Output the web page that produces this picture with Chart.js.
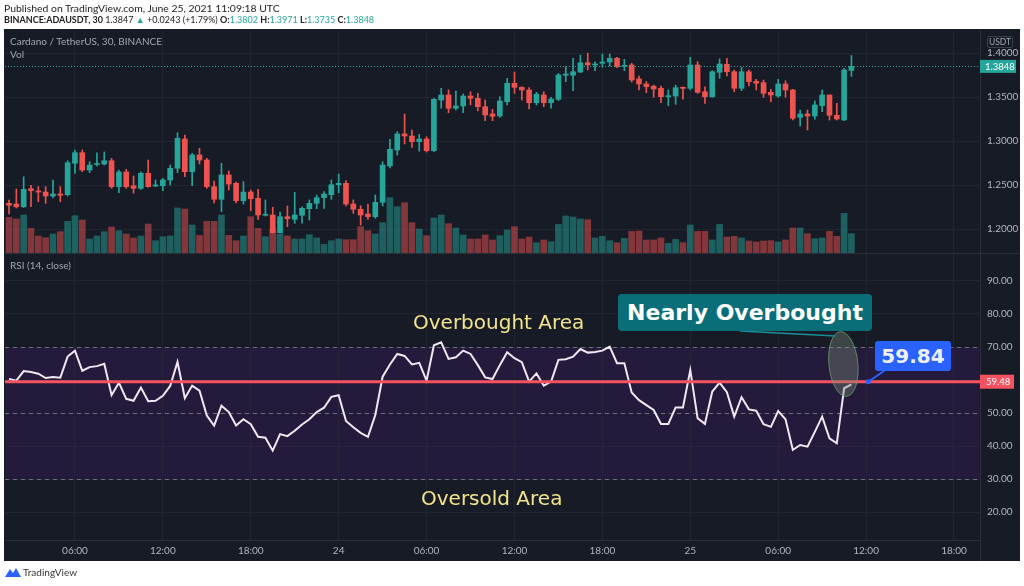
<!DOCTYPE html>
<html><head><meta charset="utf-8">
<script src="https://cdn.jsdelivr.net/npm/chart.js@4.4.1/dist/chart.umd.min.js"></script>
<style>
html,body{margin:0;padding:0;width:1024px;height:586px;background:#ffffff;overflow:hidden;}
body{position:relative;font-family:Lato,"Liberation Sans",sans-serif;}
.abs{position:absolute;white-space:nowrap;}
#panel{left:4px;top:29px;width:1016px;height:532px;background:#171b26;}
#hdr1{left:4px;top:2px;font-size:10.4px;line-height:12px;color:#222;}
#hdr2{left:4px;top:14px;font-size:9px;line-height:12px;color:#222;}
#hdr2 b{font-weight:700;}
.tv{color:#26a69a;}
canvas{position:absolute;left:0;top:0;}
.lbl{font-size:10px;line-height:12px;color:#a3a6af;}
.area{font-family:"DejaVu Sans",sans-serif;font-size:20px;line-height:24px;color:#f2e48c;}
#nob{left:618px;top:294px;width:254px;height:37px;background:#0a6e79;border-radius:4px;color:#fff;
 font-family:"DejaVu Sans",sans-serif;font-weight:700;font-size:22px;line-height:37px;text-align:center;}
#val{left:875px;top:341px;width:76px;height:30px;background:#2962ff;border-radius:3px;color:#eef0ff;
 font-family:"DejaVu Sans",sans-serif;font-weight:700;font-size:20px;line-height:30px;text-align:center;}
#usdt{left:987px;top:36px;width:24px;height:10px;border:1px solid #3c404b;border-radius:2px;font-size:8.5px;line-height:10px;color:#a3a6af;text-align:center;}
#logo{left:5px;top:566px;font-size:10px;line-height:13px;color:#333;}
</style></head>
<body>
<div id="panel" class="abs"></div>
<div class="abs" style="left:4px;top:253px;width:1016px;height:1px;background:#2a2e39"></div>
<div class="abs" style="left:980px;top:540px;width:1px;height:21px;background:#2a2e39"></div>
<canvas id="cA" width="1024" height="586" style="width:1024px;height:586px"></canvas>
<canvas id="cB" width="1024" height="586" style="width:1024px;height:586px"></canvas>

<div id="hdr1" class="abs">Published on TradingView.com, June 25, 2021 11:09:18 UTC</div>
<div id="hdr2" class="abs"><b>BINANCE:ADAUSDT, 30</b> 1.3847 <span class="tv">▲</span> +0.0243 (+1.79%) <b>O:</b><span class="tv">1.3802</span> <b>H:</b><span class="tv">1.3971</span> <b>L:</b><span class="tv">1.3735</span> <b>C:</b><span class="tv">1.3848</span></div>
<div class="abs lbl" style="left:10px;top:35px;">Cardano / TetherUS, 30, BINANCE</div>
<div class="abs lbl" style="left:10px;top:48px;">Vol</div>
<div class="abs lbl" style="left:10px;top:259px;">RSI (14, close)</div>
<div id="usdt" class="abs">USDT</div>
<div class="abs area" style="left:413px;top:310px;">Overbought Area</div>
<div class="abs area" style="left:421px;top:486px;">Oversold Area</div>
<div id="nob" class="abs">Nearly Overbought</div>
<div id="val" class="abs">59.84</div>
<div id="logo" class="abs"><svg width="16" height="12" style="vertical-align:-2px;margin-right:2px"><path d="M0 11 L5 3 L8 7 L11 2 L16 11 Z" fill="#2962ff"/></svg>TradingView</div>

<script>
// ---- data (30-minute bars, first bar = 23 June 01:30 UTC) ----
const firstSlot = 3; // half-hour slot index counted from 23 June 00:00
const open = [
1.2292,1.2284,1.2253,1.2458,1.2432,1.2420,1.2375,1.2398,1.2390,1.2747,
1.2867,1.2670,1.2733,1.2739,1.2776,1.2481,1.2648,1.2492,1.2462,1.2633,
1.2489,1.2492,1.2557,1.2690,1.3023,1.2651,1.2841,1.2784,1.2481,1.2338,
1.2614,1.2519,1.2322,1.2420,1.2349,1.2156,1.2159,1.1958,1.2140,1.2110,
1.2156,1.2231,1.2292,1.2356,1.2390,1.2503,1.2519,1.2284,1.2224,1.2170,
1.2140,1.2303,1.2716,1.2898,1.3080,1.3057,1.2992,1.3023,1.2890,1.3466,
1.3523,1.3372,1.3398,1.3511,1.3485,1.3390,1.3307,1.3284,1.3447,1.3656,
1.3610,1.3580,1.3435,1.3523,1.3435,1.3474,1.3747,1.3747,1.3784,1.3890,
1.3864,1.3883,1.3898,1.3940,1.3849,1.3864,1.3705,1.3648,1.3622,1.3599,
1.3503,1.3511,1.3610,1.3599,1.3864,1.3560,1.3503,1.3781,1.3872,1.3787,
1.3599,1.3787,1.3678,1.3663,1.3553,1.3511,1.3648,1.3580,1.3269,1.3307,
1.3284,1.3401,1.3523,1.3292,1.3239,1.3802];
const high = [
1.2330,1.2455,1.2594,1.2497,1.2481,1.2481,1.2557,1.2481,1.2776,1.2898,
1.2898,1.2765,1.2867,1.2875,1.2803,1.2670,1.2678,1.2602,1.2651,1.2784,
1.2557,1.2576,1.2727,1.3094,1.3068,1.2860,1.2917,1.2803,1.2545,1.2747,
1.2659,1.2534,1.2538,1.2443,1.2451,1.2330,1.2247,1.2193,1.2261,1.2417,
1.2253,1.2330,1.2386,1.2424,1.2557,1.2625,1.2549,1.2330,1.2265,1.2284,
1.2386,1.2765,1.3019,1.3106,1.3307,1.3125,1.3076,1.3049,1.3485,1.3599,
1.3580,1.3568,1.3534,1.3560,1.3542,1.3466,1.3360,1.3503,1.3713,1.3784,
1.3617,1.3606,1.3553,1.3560,1.3497,1.3769,1.3844,1.3940,1.3977,1.3997,
1.3901,1.3989,1.3989,1.3951,1.3928,1.3883,1.3739,1.3674,1.3636,1.3625,
1.3580,1.3636,1.3617,1.3951,1.3901,1.3617,1.3799,1.3932,1.3940,1.3807,
1.3837,1.3807,1.3701,1.3693,1.3587,1.3701,1.3685,1.3587,1.3352,1.3352,
1.3455,1.3580,1.3523,1.3428,1.3826,1.3971];
const low = [
1.2171,1.2239,1.2244,1.2253,1.2310,1.2292,1.2352,1.2310,1.2375,1.2633,
1.2651,1.2640,1.2716,1.2727,1.2462,1.2412,1.2462,1.2406,1.2451,1.2474,
1.2481,1.2435,1.2500,1.2640,1.2594,1.2492,1.2739,1.2462,1.2295,1.2197,
1.2443,1.2295,1.2284,1.2208,1.2110,1.2148,1.1955,1.1955,1.2026,1.2065,
1.2065,1.2102,1.2231,1.2235,1.2338,1.2412,1.2261,1.2178,1.2045,1.2110,
1.2122,1.2261,1.2693,1.2841,1.2966,1.2928,1.2886,1.2875,1.2878,1.3372,
1.3322,1.3352,1.3322,1.3409,1.3341,1.3231,1.3231,1.3269,1.3409,1.3542,
1.3466,1.3364,1.3409,1.3390,1.3372,1.3458,1.3674,1.3572,1.3776,1.3807,
1.3799,1.3838,1.3852,1.3833,1.3799,1.3670,1.3580,1.3549,1.3497,1.3435,
1.3401,1.3417,1.3474,1.3580,1.3542,1.3428,1.3497,1.3712,1.3739,1.3560,
1.3572,1.3625,1.3580,1.3497,1.3447,1.3497,1.3497,1.3239,1.3170,1.3125,
1.3247,1.3333,1.3239,1.3239,1.3231,1.3735];
const close = [
1.2269,1.2253,1.2451,1.2435,1.2420,1.2375,1.2398,1.2383,1.2753,1.2867,
1.2670,1.2727,1.2739,1.2776,1.2481,1.2648,1.2481,1.2462,1.2633,1.2481,
1.2500,1.2557,1.2690,1.3031,1.2651,1.2841,1.2784,1.2481,1.2338,1.2614,
1.2511,1.2322,1.2420,1.2344,1.2159,1.2159,1.1958,1.2140,1.2117,1.2159,
1.2235,1.2292,1.2356,1.2398,1.2503,1.2519,1.2284,1.2224,1.2159,1.2140,
1.2303,1.2727,1.2906,1.3080,1.3057,1.2992,1.3023,1.2890,1.3474,1.3523,
1.3372,1.3398,1.3511,1.3485,1.3390,1.3295,1.3281,1.3455,1.3656,1.3610,
1.3580,1.3435,1.3531,1.3435,1.3477,1.3750,1.3761,1.3787,1.3890,1.3864,
1.3875,1.3898,1.3940,1.3844,1.3860,1.3693,1.3648,1.3617,1.3591,1.3503,
1.3515,1.3606,1.3599,1.3864,1.3553,1.3503,1.3787,1.3875,1.3787,1.3599,
1.3787,1.3674,1.3656,1.3542,1.3523,1.3648,1.3580,1.3258,1.3307,1.3284,
1.3409,1.3523,1.3292,1.3250,1.3807,1.3848];
const volumeM = [ // millions ADA
3.56,3.40,3.80,2.46,1.70,1.53,1.90,2.13,3.16,3.73,
3.30,1.40,1.70,2.13,2.60,2.23,1.90,1.50,1.70,2.90,
1.23,1.63,1.70,4.50,4.40,2.80,1.76,3.16,3.16,3.80,
1.76,1.23,1.70,3.63,2.46,1.63,2.40,1.90,1.70,1.40,
1.40,1.83,1.50,0.86,1.23,1.40,1.33,1.33,2.63,2.23,
1.90,3.03,5.53,4.63,5.03,3.03,2.40,1.73,3.50,3.80,
2.93,2.50,1.80,1.40,1.40,1.80,1.30,1.73,2.30,2.63,
1.40,1.60,1.03,1.30,1.13,2.86,3.70,3.60,3.40,3.33,
1.50,1.66,1.23,1.03,1.46,2.16,2.20,1.30,1.30,1.50,
0.96,1.36,1.03,2.80,2.16,2.16,1.30,2.86,1.60,1.66,
1.50,1.20,1.10,1.20,1.23,1.10,1.30,2.50,2.50,1.93,
1.43,1.50,2.16,1.66,3.96,1.93];
const rsi = [
60.3,59.8,62.7,62.4,61.9,60.6,60.9,60.7,67.1,68.9,
62.8,63.9,64.2,64.9,55.4,59.2,54.3,53.7,57.7,53.6,
53.7,55.2,58.2,65.5,54.5,58.3,56.8,49.2,46.2,52.2,
50.3,46.2,48.1,46.6,42.8,42.5,38.6,43.6,43.0,44.6,
46.5,48.1,50.3,51.6,54.9,55.4,47.6,45.7,44.0,42.8,
49.4,61.0,64.7,67.9,67.3,64.7,65.2,59.8,70.5,71.4,
66.4,66.9,68.9,67.9,64.5,60.8,60.3,64.5,68.4,66.6,
65.4,59.5,62.0,58.3,59.5,66.1,66.3,67.1,69.4,68.3,
68.5,68.9,70.1,65.1,65.1,56.2,53.9,52.4,50.9,46.7,
46.7,51.7,51.7,63.0,48.4,46.7,56.5,59.2,56.3,48.9,
54.8,51.1,50.7,46.6,45.8,50.6,48.1,38.8,40.3,39.8,
44.3,48.9,42.3,40.8,57.5,58.7];
const tickSlots  = [12,24,36,48,60,72,84,96,108,120,132];
const tickLabels = ['06:00','12:00','18:00','24','06:00','12:00','18:00','25','06:00','12:00','18:00'];
const priceTicks = [1.20,1.25,1.30,1.35,1.40];
const rsiTicks   = [20,30,40,50,60,70,80,90];
const rsiUpper = 70, rsiMid = 50, rsiLower = 30;
const rsiMarker = 59.48;
const calloutSlot = 120.3;          // where the 59.84 callout touches the marker line
const ellipseSlot = 116.9, ellipseRsi = 64.85;

// ---- derived ----
const GREEN='#26a69a', RED='#ef5350';
const GREEN_VOL='rgba(38,166,154,0.5)', RED_VOL='rgba(239,83,80,0.5)';
const slots = close.map((_,i)=>firstSlot+i);
const isUp = close.map((c,i)=>c>=open[i]);
const candleColors = isUp.map(u=>u?GREEN:RED);
const volColors = isUp.map(u=>u?GREEN_VOL:RED_VOL);
const lastClose = close[close.length-1];

const X_MIN=2.45, X_MAX=135.55;
const P_MIN=1.17273, P_MAX=1.42614;
const R_MIN=11.52, R_MAX=98.18;
const VOL_MAX=22.3;
const FONT="Lato, 'Liberation Sans', sans-serif";
const GRID='rgba(42,46,57,0.55)';
const AXIS_W=40;
const fixTicks = vals => s => { s.ticks = vals.map(v=>({value:v})); };

const common = {
  responsive:false, animation:false, events:[],
  plugins:{legend:{display:false}, tooltip:{enabled:false}}
};

// ---- price + volume pane ----
const priceOverlay = {
  id:'priceOverlay',
  afterDatasetsDraw(chart){
    const {ctx, chartArea:a, scales:{y}} = chart;
    const py = Math.round(y.getPixelForValue(lastClose))+0.5;
    ctx.save(); ctx.strokeStyle=GREEN; ctx.lineWidth=1; ctx.setLineDash([1,2]);
    ctx.beginPath(); ctx.moveTo(a.left,py); ctx.lineTo(a.right,py); ctx.stroke(); ctx.restore();
  },
  afterDraw(chart){
    const {ctx, chartArea:a, scales:{y}} = chart;
    const py = y.getPixelForValue(lastClose);
    ctx.save(); ctx.fillStyle=GREEN; ctx.fillRect(a.right, py-6.5, 36, 13);
    ctx.fillStyle='#ffffff'; ctx.font='9.5px '+FONT; ctx.textBaseline='middle';
    ctx.fillText(lastClose.toFixed(4), a.right+5, py+0.5); ctx.restore();
  }
};

new Chart(document.getElementById('cA'), {
  type:'bar',
  data:{ datasets:[
    { data: slots.map((s,i)=>({x:s, y:[open[i], close[i]]})), backgroundColor:candleColors,
      barThickness:5, grouped:false, minBarLength:1, order:1, yAxisID:'y' },
    { data: slots.map((s,i)=>({x:s, y:[low[i], high[i]]})), backgroundColor:candleColors,
      barThickness:1, grouped:false, order:2, yAxisID:'y' },
    { data: slots.map((s,i)=>({x:s, y:volumeM[i]})), backgroundColor:volColors,
      barThickness:6, grouped:false, order:3, yAxisID:'yv' }
  ]},
  options:{ ...common,
    layout:{padding:{left:5, top:30, right:4, bottom:333}},
    scales:{
      x:{ type:'linear', min:X_MIN, max:X_MAX, offset:false, afterBuildTicks:fixTicks(tickSlots),
          ticks:{display:false}, grid:{color:GRID, drawTicks:false, offset:false}, border:{display:false},
          afterFit:s=>{s.height=0;} },
      y:{ position:'right', min:P_MIN, max:P_MAX, afterBuildTicks:fixTicks(priceTicks),
          ticks:{color:'#b2b5be', font:{size:10, family:FONT}, padding:7, callback:v=>v.toFixed(4)},
          grid:{color:GRID, drawTicks:false}, border:{color:'#2a2e39'},
          afterFit:s=>{s.width=AXIS_W;} },
      yv:{ display:false, min:0, max:VOL_MAX }
    }
  },
  plugins:[priceOverlay]
});

// ---- RSI pane ----
const rsiOverlay = {
  id:'rsiOverlay',
  beforeDraw(chart){
    const {ctx, chartArea:a, scales:{y}} = chart;
    const y1=y.getPixelForValue(rsiUpper), y2=y.getPixelForValue(rsiLower);
    ctx.save(); ctx.fillStyle='#241a3b'; ctx.fillRect(a.left,y1,a.right-a.left,y2-y1); ctx.restore();
  },
  beforeDatasetsDraw(chart){
    const {ctx, chartArea:a, scales:{y}} = chart;
    ctx.save(); ctx.strokeStyle='rgba(120,123,134,0.9)'; ctx.lineWidth=1; ctx.setLineDash([4,4]);
    [rsiUpper,rsiMid,rsiLower].forEach(v=>{
      const py=Math.round(y.getPixelForValue(v))+0.5;
      ctx.beginPath(); ctx.moveTo(a.left,py); ctx.lineTo(a.right,py); ctx.stroke();
    });
    ctx.restore();
  },
  afterDatasetsDraw(chart){
    const {ctx, chartArea:a, scales:{y}} = chart;
    const py=y.getPixelForValue(rsiMarker);
    ctx.save(); ctx.strokeStyle='#f7525f'; ctx.lineWidth=3;
    ctx.beginPath(); ctx.moveTo(a.left,py); ctx.lineTo(a.right,py); ctx.stroke(); ctx.restore();
  },
  afterDraw(chart){
    const {ctx, chartArea:a, scales:{x,y}} = chart;
    const py=y.getPixelForValue(rsiMarker);
    ctx.save();
    // axis marker label
    ctx.fillStyle='#f7525f'; ctx.fillRect(a.right, py-7, 34, 14);
    ctx.fillStyle='#ffffff'; ctx.font='9.5px '+FONT; ctx.textBaseline='middle';
    ctx.fillText(rsiMarker.toFixed(2), a.right+6, py+0.5);
    // ellipse highlight
    const ex=x.getPixelForValue(ellipseSlot), ey=y.getPixelForValue(ellipseRsi);
    ctx.beginPath(); ctx.ellipse(ex, ey, 14.5, 32.5, -0.1, 0, Math.PI*2);
    ctx.fillStyle='rgba(125,140,120,0.38)'; ctx.fill();
    ctx.strokeStyle='rgba(110,165,110,0.75)'; ctx.lineWidth=1; ctx.stroke();
    // teal connector to the "Nearly Overbought" note
    ctx.strokeStyle='#1a8f99'; ctx.lineWidth=1.5;
    ctx.beginPath(); ctx.moveTo(740,331); ctx.lineTo(ex-8, ey-28); ctx.stroke();
    // blue callout
    const cx=x.getPixelForValue(calloutSlot);
    ctx.strokeStyle='#2962ff'; ctx.lineWidth=2;
    ctx.beginPath(); ctx.moveTo(cx,py); ctx.lineTo(cx+16,py-11); ctx.stroke();
    ctx.fillStyle='#2962ff'; ctx.beginPath(); ctx.arc(cx,py,2.5,0,Math.PI*2); ctx.fill();
    ctx.restore();
  }
};

new Chart(document.getElementById('cB'), {
  type:'line',
  data:{ datasets:[
    { data: slots.map((s,i)=>({x:s, y:rsi[i]})), borderColor:'#f3e6f5', borderWidth:2,
      pointRadius:0, tension:0, fill:false }
  ]},
  options:{ ...common,
    layout:{padding:{left:5, top:254, right:4, bottom:25}},
    scales:{
      x:{ type:'linear', min:X_MIN, max:X_MAX, afterBuildTicks:fixTicks(tickSlots),
          ticks:{color:'#b2b5be', font:{size:10, family:FONT}, maxRotation:0, autoSkip:false, padding:5,
                 callback:v=>tickLabels[tickSlots.indexOf(v)]},
          grid:{color:GRID, drawTicks:false}, border:{color:'#2a2e39'},
          afterFit:s=>{s.height=21;} },
      y:{ position:'right', min:R_MIN, max:R_MAX, afterBuildTicks:fixTicks(rsiTicks),
          ticks:{color:'#b2b5be', font:{size:10, family:FONT}, padding:7, callback:v=>v.toFixed(2)},
          grid:{color:GRID, drawTicks:false}, border:{color:'#2a2e39'},
          afterFit:s=>{s.width=AXIS_W;} }
    }
  },
  plugins:[rsiOverlay]
});
</script>
</body></html>
